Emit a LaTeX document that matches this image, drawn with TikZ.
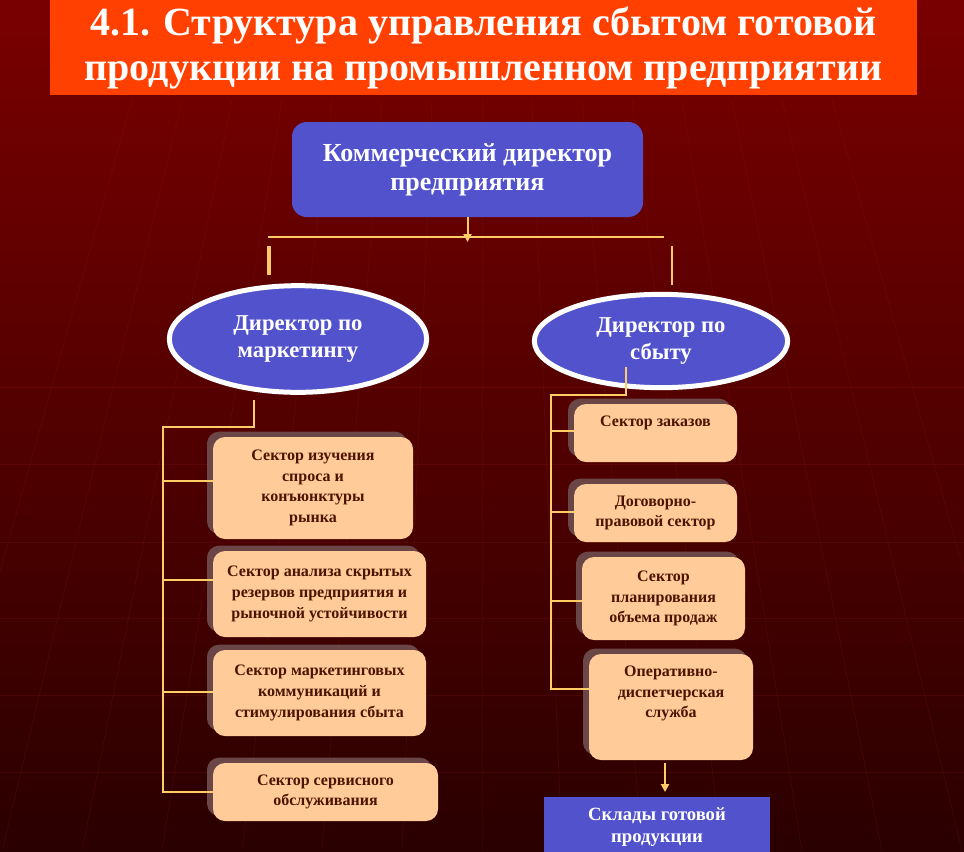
\documentclass[tikz,border=0pt]{standalone}
\usepackage{fontspec}
\setmainfont{Liberation Serif}
\usetikzlibrary{shapes.geometric,shadows,arrows.meta}

\definecolor{bgtop}{HTML}{7A0000}
\definecolor{bgmid}{HTML}{600000}
\definecolor{bgbot}{HTML}{2A0000}
\definecolor{gridcol}{HTML}{A02020}
\definecolor{titlered}{HTML}{FF4000}
\definecolor{bossblue}{HTML}{5252CC}
\definecolor{peach}{HTML}{FFCC99}
\definecolor{peachshade}{HTML}{6B4646}
\definecolor{brownink}{HTML}{4A1400}
\definecolor{wirecol}{HTML}{FFCC66}

\begin{document}
\begin{tikzpicture}[x=0.75pt,y=-0.75pt,
  chief/.style={rectangle, rounded corners=11pt, fill=bossblue, text=white,
    font=\bfseries\fontsize{19.5}{22}\selectfont, align=center, inner sep=0pt},
  head/.style={ellipse, draw=white, line width=3.75pt, fill=bossblue, text=white,
    font=\bfseries\fontsize{17}{20.5}\selectfont, align=center, inner sep=0pt},
  sector/.style={rectangle, rounded corners=9pt, fill=peach, text=brownink,
    font=\bfseries\fontsize{12}{15.5}\selectfont, align=center, inner sep=0pt,
    drop shadow={shadow xshift=-4.5pt, shadow yshift=4pt, opacity=1, fill=peachshade}},
  wire/.style={draw=wirecol, line width=1.5pt},
  feed/.style={wire, -{Triangle[length=6pt,width=6pt]}},
  faint/.style={draw=gridcol, line width=0.6pt, opacity=0.16}
]
% background
\shade[top color=bgtop, middle color=bgmid, bottom color=bgbot] (0,0) rectangle (964,851);
\useasboundingbox (0,0) rectangle (964,851);
\foreach \y in {387,464,542,618,695,772}
  \draw[faint] (0,\y) -- (964,\y);
\foreach \k in {-7,...,7}
  \draw[faint] (482+\k*50,100) .. controls (482+\k*66,500) .. (482+\k*80,851);

% title
\node[rectangle, fill=titlered, minimum width=650.25pt, minimum height=71.25pt, inner sep=0pt,
  text=white, font=\bfseries\fontsize{30}{33.75}\selectfont, align=center] (title) at (483.5,47.5)
  {4.1. Структура управления сбытом готовой\\продукции на промышленном предприятии};

% top level
\node[chief, minimum width=263.25pt, minimum height=71.25pt] (chief) at (467.5,169.5)
  {Коммерческий директор\\предприятия};

\node[head, minimum width=193pt, minimum height=80pt] (mkt) at (298,339) {Директор по\\маркетингу};
\node[head, minimum width=190pt, minimum height=70pt] (sales) at (661,341) {Директор по\\сбыту};

% marketing sectors
\node[sector, minimum width=150pt, minimum height=76.5pt] (L1) at (313,488)
  {Сектор изучения\\спроса и\\конъюнктуры\\рынка};
\node[sector, minimum width=159.75pt, minimum height=64.5pt] (L2) at (319.5,594)
  {Сектор анализа скрытых\\резервов предприятия и\\рыночной устойчивости};
\node[sector, minimum width=159.75pt, minimum height=64.5pt] (L3) at (319.5,693)
  {Сектор маркетинговых\\коммуникаций и\\стимулирования сбыта};
\node[sector, minimum width=168.75pt, minimum height=43.5pt] (L4) at (325.5,792)
  {Сектор сервисного\\обслуживания};

% sales sectors
\node[sector, minimum width=122.25pt, minimum height=43.5pt] (R1) at (655.5,433)
  {Сектор заказов\\[2.5pt]\mbox{}};
\node[sector, minimum width=122.25pt, minimum height=43.5pt] (R2) at (655.5,513)
  {Договорно-\\правовой сектор};
\node[sector, minimum width=122.25pt, minimum height=62.25pt] (R3) at (663.5,598.5)
  {Сектор\\планирования\\объема продаж};
\node[sector, minimum width=123pt, minimum height=79.5pt] (R4) at (671,707)
  {Оперативно-\\диспетчерская\\служба\\[7pt]\mbox{}};

\node[rectangle, fill=bossblue, text=white, font=\bfseries\fontsize{14}{16}\selectfont, align=center,
  inner sep=0pt, minimum width=169.5pt, minimum height=45pt] (store) at (657,827)
  {Склады готовой\\продукции};

% connectors
\coordinate (barL) at (268,237);
\coordinate (barR) at (664,237);
\draw[wire] (barL) -- (barR);
\draw[feed] (chief.south) -- (chief.south |- 0,242);
\coordinate (stubL) at (269,246);
\coordinate (stubR) at (672,246);
\draw[wire, line width=3pt] (stubL) -- (stubL |- 0,275);
\draw[wire] (stubR) -- (stubR |- 0,285);

\coordinate (mktFoot) at (254,400);
\coordinate (spineL) at (163,427);
\draw[wire] (mktFoot) -- (mktFoot |- spineL) -- (spineL) -- (spineL |- 0,792) -- (L4.west |- 0,792);
\foreach \b/\y in {L1/481,L2/580,L3/692}
  \draw[wire] (163,\y) -- (\b.west |- 0,\y);

\coordinate (salesFoot) at (626,367);
\coordinate (spineR) at (551,395);
\draw[wire] (salesFoot) -- (salesFoot |- spineR) -- (spineR) -- (spineR |- 0,689) -- (R4.west |- 0,689);
\foreach \b/\y in {R1/431,R2/512,R3/601}
  \draw[wire] (551,\y) -- (\b.west |- 0,\y);

\coordinate (dropTop) at (665,763);
\draw[feed] (dropTop) -- (dropTop |- 0,792);
\end{tikzpicture}
\end{document}
